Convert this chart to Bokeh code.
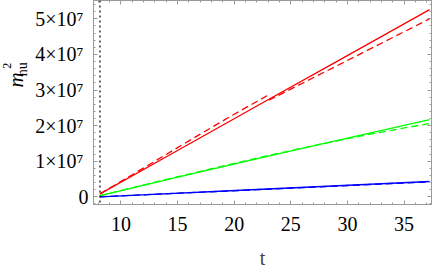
import math
from bokeh.plotting import figure
from bokeh.layouts import row
from bokeh.models import Range1d, FixedTicker, LinearAxis, Span, Label
from bokeh.embed import file_html
from bokeh.resources import INLINE

# ---- data (values in units of 1e7) ----
t_red_solid = [8.15, 15, 22, 29, 37.25]
red_solid = [0.08, 1.30, 2.55, 3.79, 5.26]
t_red_dash = [8.15, 11, 14, 17, 20, 22.9, 23.1, 37.25]
red_dash = [0.08, 0.62, 1.19, 1.76, 2.32, 2.84, 2.72, 5.00]

t_green_solid = [8.15, 17, 26, 37.25]
green_solid = [0.03, 0.70, 1.36, 2.17]
t_green_dash = [8.15, 13, 18, 23, 27.5, 32, 37.25]
green_dash = [0.03, 0.41, 0.79, 1.16, 1.47, 1.76, 2.06]

t_blue_solid = [8.15, 22, 37.25]
blue_solid = [0.0, 0.205, 0.43]
t_blue_dash = [8.15, 22, 37.25]
blue_dash = [0.0, 0.20, 0.42]

t_marker = 8.15

x_ticks = [10, 15, 20, 25, 30, 35]
x_minor = [v for v in range(8, 38) if v % 5 != 0]
y_ticks = [0, 1e7, 2e7, 3e7, 4e7, 5e7]
y_tick_labels = ["0", "1×10⁷\u2005", "2×10⁷\u2005", "3×10⁷\u2005", "4×10⁷\u2005", "5×10⁷\u2005"]
y_minor = [k * 2e6 for k in range(-1, 28) if k % 5 != 0]

SCALE = 1e7
FONT = "Liberation Serif"
FRAME = "#9a9a9a"
LEFT_W = 32
H = 271

p = figure(width=436 - LEFT_W, height=H, output_backend="svg", toolbar_location=None,
           x_range=Range1d(7.579, 37.42), y_range=Range1d(-0.217e7, 5.516e7),
           x_axis_location=None, y_axis_location=None,
           min_border_left=92 - LEFT_W, min_border_right=5, min_border_top=0, min_border_bottom=60)
p.grid.visible = False
p.outline_line_color = FRAME
p.background_fill_color = "white"


def style_axis(ax):
    ax.axis_line_color = FRAME
    ax.major_tick_line_color = FRAME
    ax.minor_tick_line_color = FRAME
    ax.major_tick_out = 0
    ax.major_tick_in = 4
    ax.minor_tick_out = 0
    ax.minor_tick_in = 2
    ax.major_label_text_font = FONT
    ax.major_label_text_font_size = "20px"
    ax.major_label_text_color = "black"


xt = FixedTicker(ticks=x_ticks, minor_ticks=x_minor)
yt = FixedTicker(ticks=y_ticks, minor_ticks=y_minor)
overrides = {float(v): s for v, s in zip(y_ticks, y_tick_labels)}
overrides.update({int(v): s for v, s in zip(y_ticks, y_tick_labels)})

below = LinearAxis(ticker=xt, axis_label="t")
style_axis(below)
below.major_label_standoff = 12
below.axis_label_text_font = FONT
below.axis_label_text_font_size = "20px"
below.axis_label_text_font_style = "normal"
below.axis_label_standoff = 13
p.add_layout(below, "below")

left = LinearAxis(ticker=yt)
style_axis(left)
left.major_label_standoff = 5
left.major_label_overrides = overrides
p.add_layout(left, "left")

# unlabelled ticks on the top and right frame edges (minor ticks only, so no labels)
for side, ticks, minors in [("above", x_ticks, x_minor), ("right", y_ticks, y_minor)]:
    for pos, length in [(minors, 2), (ticks, 4)]:
        ax = LinearAxis(ticker=FixedTicker(ticks=[], minor_ticks=pos))
        ax.axis_line_color = FRAME
        ax.minor_tick_line_color = FRAME
        ax.minor_tick_out = 0
        ax.minor_tick_in = length
        ax.major_tick_out = 0
        ax.major_tick_in = 0
        ax.major_label_standoff = 0
        p.add_layout(ax, side)

p.add_layout(Span(location=t_marker, dimension="height", line_color="black",
                  line_dash="2 3", line_width=1.2))


def sc(v):
    return [x * SCALE for x in v]


lw = 1.3
p.line(t_blue_solid, sc(blue_solid), line_color="#0000ff", line_width=lw)
p.line(t_blue_dash, sc(blue_dash), line_color="#0000ff", line_width=lw, line_dash="7 4")
p.line(t_green_solid, sc(green_solid), line_color="#00ff00", line_width=lw)
p.line(t_green_dash, sc(green_dash), line_color="#00ff00", line_width=lw, line_dash="7 4")
p.line(t_red_solid, sc(red_solid), line_color="#ff0000", line_width=lw)
p.line(t_red_dash, sc(red_dash), line_color="#ff0000", line_width=lw, line_dash="7 4")

# narrow strip on the left that carries the rotated y title  m_{hu}^2
q = figure(width=LEFT_W, height=H, output_backend="svg", toolbar_location=None,
           x_range=Range1d(0, LEFT_W), y_range=Range1d(0, H),
           x_axis_location=None, y_axis_location=None,
           min_border=0, min_border_left=0, min_border_right=0,
           min_border_top=0, min_border_bottom=0)
q.grid.visible = False
q.outline_line_color = None
# anchors in pixels from the top-left of the picture (text starts there and runs upward)
for txt, xs, ys, size, style in [("m", 15.2, 115.5, "21px", "italic"),
                                 ("hu", 22.3, 100.5, "14px", "normal"),
                                 ("2", 6.1, 90.5, "12px", "normal")]:
    q.add_layout(Label(x=xs, y=H - ys, text=txt,
                       angle=math.pi / 2, text_align="left", text_baseline="middle",
                       text_font=FONT, text_font_size=size, text_font_style=style,
                       text_color="black"))

layout = row(q, p, spacing=0)
open("out.html", "w").write(file_html(layout, INLINE))
